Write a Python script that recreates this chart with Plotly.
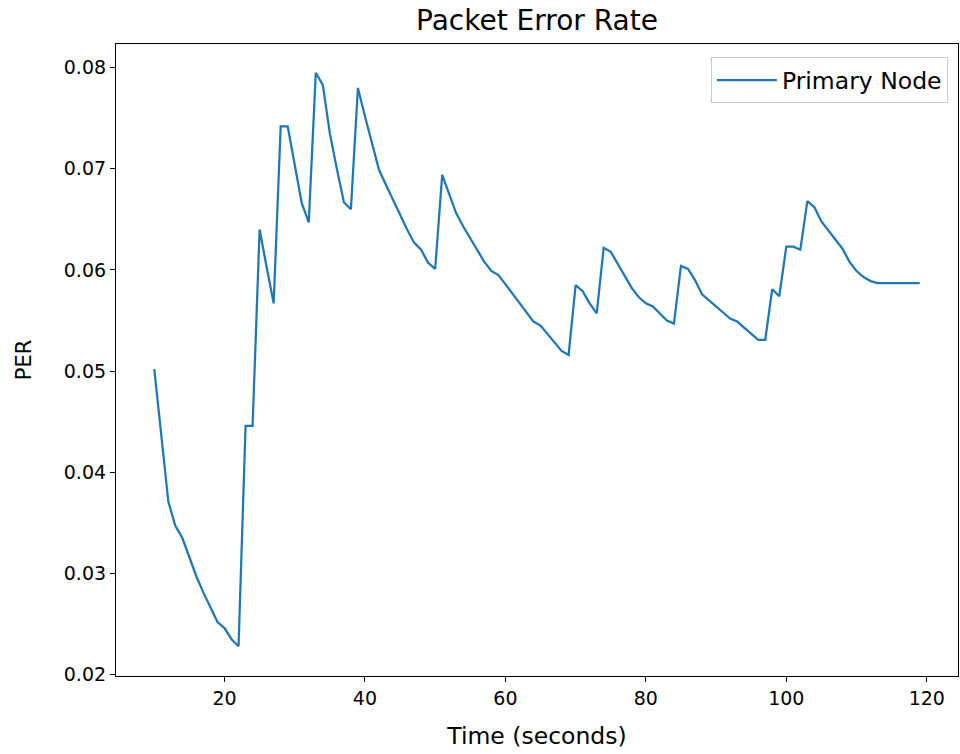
import plotly.graph_objects as go

time_s = list(range(10, 120))
per = [
    0.0502, 0.0437, 0.0371, 0.0347, 0.0335, 0.0316, 0.0297, 0.0281, 0.0266, 0.0252,
    0.0246, 0.0235, 0.0228, 0.0446, 0.0446, 0.0640, 0.0603, 0.0567, 0.0742, 0.0742,
    0.0704, 0.0666, 0.0647, 0.0795, 0.0783, 0.0735, 0.0700, 0.0667, 0.0660, 0.0780,
    0.0752, 0.0724, 0.0699, 0.0684, 0.0669, 0.0655, 0.0640, 0.0627, 0.0620, 0.0607,
    0.0601, 0.0694, 0.0675, 0.0656, 0.0643, 0.0631, 0.0619, 0.0608, 0.0599, 0.0595,
    0.0586, 0.0577, 0.0567, 0.0558, 0.0549, 0.0545, 0.0537, 0.0528, 0.0520, 0.0516,
    0.0585, 0.0579, 0.0567, 0.0557, 0.0622, 0.0618, 0.0606, 0.0594, 0.0582, 0.0573,
    0.0567, 0.0564, 0.0557, 0.0550, 0.0547, 0.0604, 0.0601, 0.0590, 0.0576, 0.0570,
    0.0564, 0.0558, 0.0552, 0.0549, 0.0543, 0.0537, 0.0531, 0.0531, 0.0581, 0.0574,
    0.0623, 0.0623, 0.0620, 0.0668, 0.0662, 0.0648, 0.0639, 0.0630, 0.0621, 0.0608,
    0.0599, 0.0593, 0.0589, 0.0587, 0.0587, 0.0587, 0.0587, 0.0587, 0.0587, 0.0587,
]
x_ticks = [20, 40, 60, 80, 100, 120]
y_ticks = [0.02, 0.03, 0.04, 0.05, 0.06, 0.07, 0.08]

FONT = "DejaVu Sans"

fig = go.Figure()
fig.add_trace(go.Scatter(
    x=time_s, y=per, mode="lines", name="Primary Node",
    line=dict(color="#1f77b4", width=2.25),
))

fig.update_layout(
    width=960, height=754,
    margin=dict(l=116, r=2, t=44, b=78, autoexpand=False),
    paper_bgcolor="white", plot_bgcolor="white",
    font=dict(family=FONT, size=19, color="black"),
    title=dict(text="Packet Error Rate", x=0.5, xanchor="center", xref="paper",
               y=0.9735, yref="container", yanchor="middle",
               font=dict(size=28, family=FONT), automargin=False),
    showlegend=True,
    legend=dict(x=0.988, y=0.979, xanchor="right", yanchor="top",
                bgcolor="rgba(255,255,255,0.8)", bordercolor="#cccccc", borderwidth=1,
                font=dict(size=23.5, family=FONT), itemwidth=60),
    xaxis=dict(range=[4.55, 124.45], tickvals=x_ticks, ticks="outside", ticklen=5,
               tickcolor="black", showline=True, linecolor="black", linewidth=1.2,
               mirror=True, showgrid=False, zeroline=False, automargin=False,
               title=dict(text="Time (seconds)", font=dict(size=23.5), standoff=19)),
    yaxis=dict(range=[0.01986, 0.08234], tickvals=y_ticks, tickformat=".2f",
               ticks="outside", ticklen=5, tickcolor="black", showline=True,
               linecolor="black", linewidth=1.2, mirror=True, showgrid=False,
               zeroline=False, automargin=False,
               title=dict(text="PER", font=dict(size=21), standoff=26)),
)

fig.write_html(
    "out.html",
    config={"displayModeBar": False},
    post_script="document.body.style.margin='0';document.body.style.overflow='hidden';",
)
